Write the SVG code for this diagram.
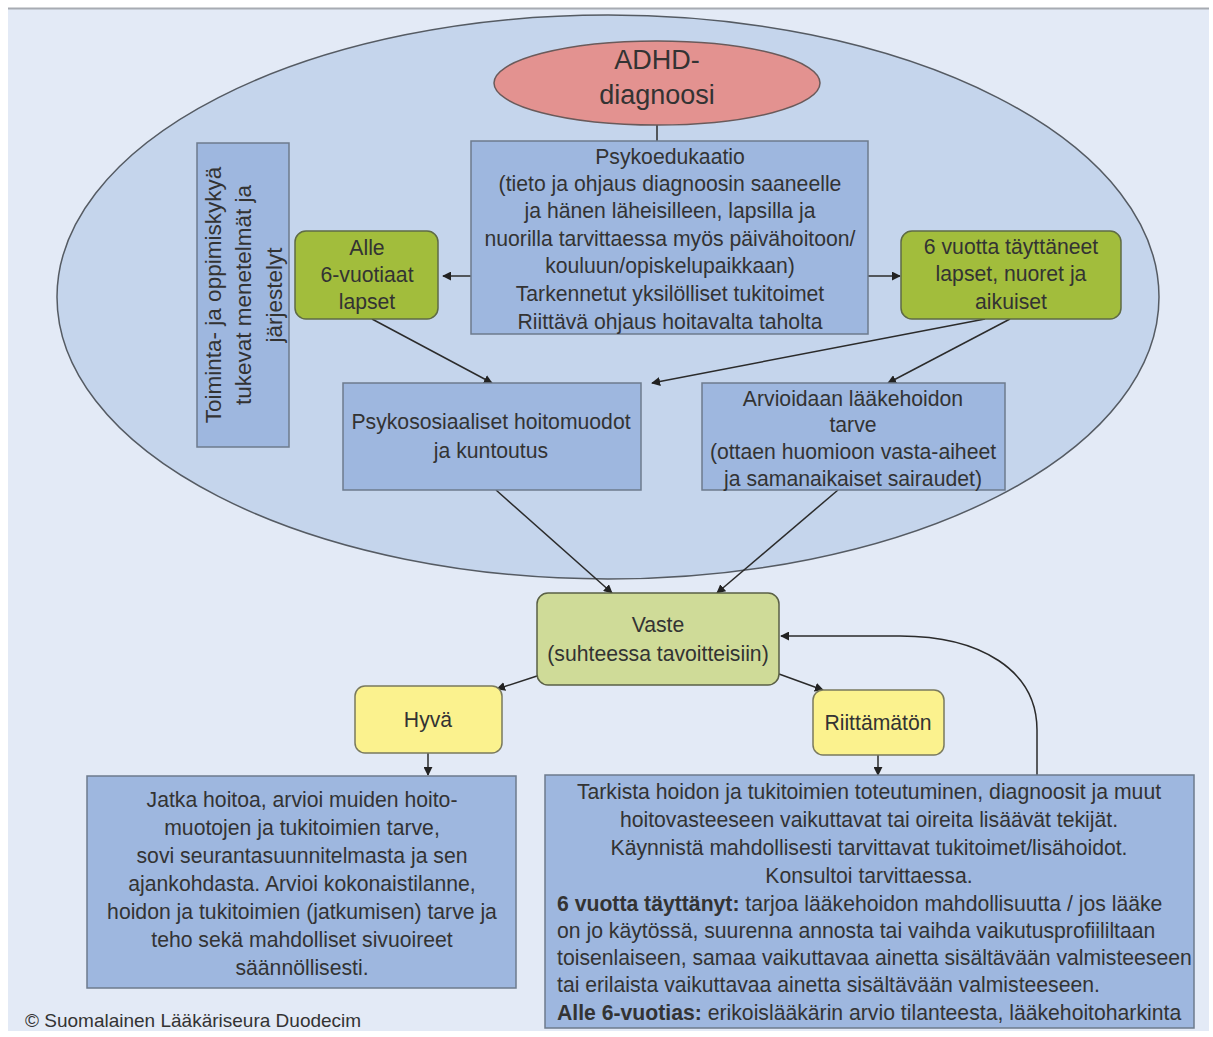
<svg xmlns="http://www.w3.org/2000/svg" width="1213" height="1037" viewBox="0 0 1213 1037">
<defs>
<marker id="ah" viewBox="0 0 10 10" refX="9" refY="5" markerWidth="9" markerHeight="9" markerUnits="userSpaceOnUse" orient="auto">
<path d="M0,0 L10,5 L0,10 z" fill="#222"/>
</marker>
<style>
text{font-family:"Liberation Sans","Open Sans",sans-serif;fill:#333;text-anchor:middle;}
.t19{font-size:21.2px;}
.t20{font-size:22.5px;}
.box{fill:#9eb7df;stroke:#6d7b8d;stroke-width:1.5;}
.green{fill:#a2bd3c;stroke:#5f6b45;stroke-width:1.5;}
.olive{fill:#cfdb98;stroke:#5a6046;stroke-width:1.5;}
.yellow{fill:#fbf28e;stroke:#7a7a5e;stroke-width:1.5;}
.conn{stroke:#2b2b2b;stroke-width:1.5;fill:none;}
.left{text-anchor:start;}
.b{font-weight:bold;}
</style>
</defs>
<rect x="0" y="0" width="1213" height="1037" fill="#ffffff"/>
<rect x="8" y="8" width="1201" height="1023" fill="#e3eaf6"/>
<line x1="8" y1="8.5" x2="1209" y2="8.5" stroke="#a7abb2" stroke-width="2"/>

<g id="outer-ellipse">
<ellipse cx="608" cy="297" rx="551" ry="282" fill="#c5d5ec" stroke="#555b63" stroke-width="1.5"/>
</g>

<g id="connectors">
<line class="conn" x1="657" y1="125" x2="657" y2="141"/>
<line class="conn" x1="471" y1="276" x2="443" y2="276" marker-end="url(#ah)"/>
<line class="conn" x1="868" y1="276" x2="900" y2="276" marker-end="url(#ah)"/>
<line class="conn" x1="372" y1="319" x2="492" y2="383" marker-end="url(#ah)"/>
<line class="conn" x1="985" y1="319" x2="652" y2="383" marker-end="url(#ah)"/>
<line class="conn" x1="1010" y1="319" x2="888" y2="383" marker-end="url(#ah)"/>
<line class="conn" x1="496" y1="490" x2="612" y2="593" marker-end="url(#ah)"/>
<line class="conn" x1="838" y1="490" x2="717" y2="593" marker-end="url(#ah)"/>
<line class="conn" x1="537" y1="676" x2="497" y2="689" marker-end="url(#ah)"/>
<line class="conn" x1="779" y1="674" x2="823" y2="690" marker-end="url(#ah)"/>
<line class="conn" x1="428" y1="753" x2="428" y2="775" marker-end="url(#ah)"/>
<line class="conn" x1="878" y1="755" x2="878" y2="775" marker-end="url(#ah)"/>
<path class="conn" d="M1037,775 L1037,730 C1037,670 980,636 900,636 L781,636" marker-end="url(#ah)"/>
</g>

<g id="adhd">
<ellipse cx="657" cy="83" rx="163" ry="42" fill="#e39290" stroke="#6a5a5a" stroke-width="1.5"/>
<text x="657" y="69" style="font-size:27px">ADHD-</text>
<text x="657" y="104" style="font-size:27px">diagnoosi</text>
</g>

<g id="psykoedukaatio">
<rect class="box" x="471" y="141" width="397" height="193"/>
<text class="t19" x="670" y="164">Psykoedukaatio</text>
<text class="t19" x="670" y="191">(tieto ja ohjaus diagnoosin saaneelle</text>
<text class="t19" x="670" y="218">ja hänen läheisilleen, lapsilla ja</text>
<text class="t19" x="670" y="246">nuorilla tarvittaessa myös päivähoitoon/</text>
<text class="t19" x="670" y="273">kouluun/opiskelupaikkaan)</text>
<text class="t19" x="670" y="301">Tarkennetut yksilölliset tukitoimet</text>
<text class="t19" x="670" y="329">Riittävä ohjaus hoitavalta taholta</text>
</g>

<g id="toiminta">
<rect class="box" x="197" y="143" width="92" height="304"/>
<g transform="translate(243,295) rotate(-90)">
<text class="t20" x="0" y="-22">Toiminta- ja oppimiskykyä</text>
<text class="t20" x="0" y="8">tukevat menetelmät ja</text>
<text class="t20" x="0" y="39">järjestelyt</text>
</g>
</g>

<g id="alle6">
<rect class="green" x="295" y="231" width="143" height="88" rx="11"/>
<text class="t19" x="367" y="255">Alle</text>
<text class="t19" x="367" y="282">6-vuotiaat</text>
<text class="t19" x="367" y="309">lapset</text>
</g>

<g id="yli6">
<rect class="green" x="901" y="231" width="220" height="88" rx="11"/>
<text class="t19" x="1011" y="254">6 vuotta täyttäneet</text>
<text class="t19" x="1011" y="281">lapset, nuoret ja</text>
<text class="t19" x="1011" y="309">aikuiset</text>
</g>

<g id="psykososiaaliset">
<rect class="box" x="343" y="383" width="298" height="107"/>
<text class="t19" x="491" y="429">Psykososiaaliset hoitomuodot</text>
<text class="t19" x="491" y="458">ja kuntoutus</text>
</g>

<g id="arvioidaan">
<rect class="box" x="702" y="383" width="303" height="107"/>
<text class="t19" x="853" y="406">Arvioidaan lääkehoidon</text>
<text class="t19" x="853" y="432">tarve</text>
<text class="t19" x="853" y="459">(ottaen huomioon vasta-aiheet</text>
<text class="t19" x="853" y="486">ja samanaikaiset sairaudet)</text>
</g>

<g id="vaste">
<rect class="olive" x="537" y="593" width="242" height="92" rx="11"/>
<text class="t19" x="658" y="632">Vaste</text>
<text class="t19" x="658" y="661">(suhteessa tavoitteisiin)</text>
</g>

<g id="hyva">
<rect class="yellow" x="355" y="686" width="147" height="67" rx="10"/>
<text class="t19" x="428" y="727">Hyvä</text>
</g>

<g id="riittamaton">
<rect class="yellow" x="813" y="690" width="131" height="65" rx="10"/>
<text class="t19" x="878" y="730">Riittämätön</text>
</g>

<g id="jatka">
<rect class="box" x="87" y="776" width="429" height="212"/>
<text class="t19" x="302" y="807">Jatka hoitoa, arvioi muiden hoito-</text>
<text class="t19" x="302" y="835">muotojen ja tukitoimien tarve,</text>
<text class="t19" x="302" y="863">sovi seurantasuunnitelmasta ja sen</text>
<text class="t19" x="302" y="891">ajankohdasta. Arvioi kokonaistilanne,</text>
<text class="t19" x="302" y="919">hoidon ja tukitoimien (jatkumisen) tarve ja</text>
<text class="t19" x="302" y="947">teho sekä mahdolliset sivuoireet</text>
<text class="t19" x="302" y="975">säännöllisesti.</text>
</g>

<g id="tarkista">
<rect class="box" x="545" y="775" width="649" height="253"/>
<text class="t19" x="869" y="799">Tarkista hoidon ja tukitoimien toteutuminen, diagnoosit ja muut</text>
<text class="t19" x="869" y="827">hoitovasteeseen vaikuttavat tai oireita lisäävät tekijät.</text>
<text class="t19" x="869" y="855">Käynnistä mahdollisesti tarvittavat tukitoimet/lisähoidot.</text>
<text class="t19" x="869" y="883">Konsultoi tarvittaessa.</text>
<text class="t19 left" x="557" y="911"><tspan class="b">6 vuotta täyttänyt:</tspan> tarjoa lääkehoidon mahdollisuutta / jos lääke</text>
<text class="t19 left" x="557" y="938">on jo käytössä, suurenna annosta tai vaihda vaikutusprofiililtaan</text>
<text class="t19 left" x="557" y="965">toisenlaiseen, samaa vaikuttavaa ainetta sisältävään valmisteeseen</text>
<text class="t19 left" x="557" y="992">tai erilaista vaikuttavaa ainetta sisältävään valmisteeseen.</text>
<text class="t19 left" x="557" y="1020"><tspan class="b">Alle 6-vuotias:</tspan> erikoislääkärin arvio tilanteesta, lääkehoitoharkinta</text>
</g>

<text x="25" y="1027" style="font-size:19px;text-anchor:start">© Suomalainen Lääkäriseura Duodecim</text>
</svg>
